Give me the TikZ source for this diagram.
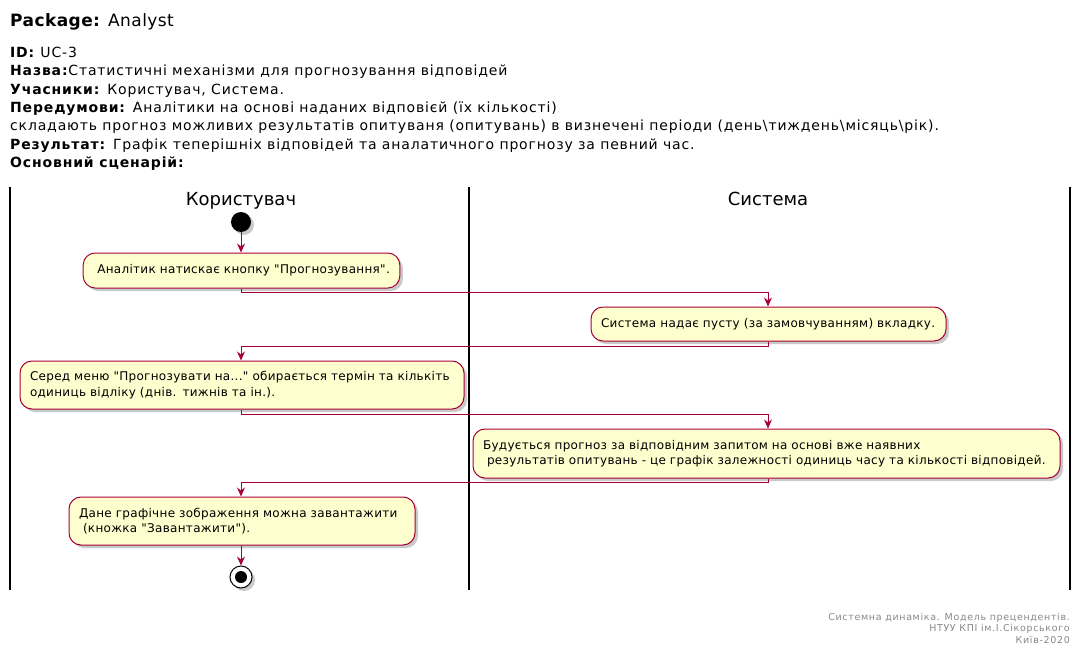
\documentclass[tikz,border=0pt]{standalone}
\usepackage{fontspec}
\newfontfamily\dv{DejaVu Sans}
\newfontfamily\dvh{DejaVu Sans}[LetterSpace=6]
\newfontfamily\dva{DejaVu Sans}[LetterSpace=2.5]
\newfontfamily\dvf{DejaVu Sans}[LetterSpace=7]
\newfontfamily\dvt{DejaVu Sans}[LetterSpace=2.5]
\usetikzlibrary{arrows.meta,shadows}
\definecolor{actfill}{HTML}{FEFECE}
\definecolor{actline}{HTML}{A80036}
\definecolor{foot}{HTML}{888888}
\tikzset{
  hdr/.style={anchor=base west,inner sep=0pt,font=\dvh\fontsize{14}{16}\selectfont},
  lanehead/.style={anchor=base,inner sep=0pt,font=\dv\fontsize{18}{20}\selectfont},
  act/.style={draw=actline,fill=actfill,line width=1pt,rounded corners=12pt,
    align=left,inner xsep=10pt,inner ysep=0pt,font=\dva\fontsize{12}{15.5}\selectfont,
    drop shadow={shadow xshift=3pt,shadow yshift=-3pt,fill=black!35,opacity=0.6}},
  flow/.style={draw=actline,line width=1pt,-{Stealth[length=9pt,width=8pt,inset=3pt]}},
  lane/.style={line width=1.5pt,black},
  footnote/.style={anchor=base east,inner sep=0pt,text=foot,font=\dvf\fontsize{9.5}{11}\selectfont}
}
\begin{document}
\begin{tikzpicture}[x=1pt,y=-1pt]
\useasboundingbox (0,0) rectangle (1081,655);
% header
\node[anchor=base west,inner sep=0pt,font=\dvt\fontsize{17}{20}\selectfont] (title) at (10,26.5) {\textbf{Package:} Analyst};
\node[hdr] (l1) at (10,57.5) {\textbf{ID:} UC-3};
\node[hdr] (l2) at (10,76) {\textbf{Назва:}Статистичні механізми для прогнозування відповідей};
\node[hdr] (l3) at (10,94.5) {\textbf{Учасники:} Користувач, Система.};
\node[hdr] (l4) at (10,112.5) {\textbf{Передумови:} Аналітики на основі наданих відповієй (їх кількості)};
\node[hdr] (l5) at (10,131) {складають прогноз можливих результатів опитуваня (опитувань) в визнечені періоди (день\textbackslash тиждень\textbackslash місяць\textbackslash рік).};
\node[hdr] (l6) at (10,149.5) {\textbf{Результат:} Графік теперішніх відповідей та аналатичного прогнозу за певний час.};
\node[hdr] (l7) at (10,167.5) {\textbf{Основний сценарій:}};
% lanes
\draw[lane] (10,187) -- (10,590);
\draw[lane] (469,187) -- (469,590);
\draw[lane] (1070,187) -- (1070,590);
\node[lanehead] (h1) at (241,205) {Користувач};
\node[lanehead] (h2) at (768,205) {Система};
% start
\node[circle,fill=black,minimum size=20pt,inner sep=0pt,
  drop shadow={shadow xshift=3pt,shadow yshift=-3pt,fill=black!35,opacity=0.6}] (start) at (241,222) {};
% activities
\node[act,minimum width=315pt,minimum height=35pt] (a1) at (241.5,270.5) {\ Аналітик натискає кнопку "Прогнозування".};
\node[act,text width=335pt,minimum height=34pt] (a2) at (768.5,324) {Система надає пусту (за замовчуванням) вкладку.};
\node[act,text width=424pt,minimum height=48pt] (a3) at (242,385) {Серед меню "Прогнозувати на..." обирається термін та кількіть\\одиниць відліку (днів. тижнів та ін.).};
\node[act,text width=567pt,minimum height=49pt] (a4) at (766.5,453.5) {Будується прогноз за відповідним запитом на основі вже наявних\\\ результатів опитувань - це графік залежності одиниць часу та кількості відповідей.};
\node[act,text width=326pt,minimum height=48pt] (a5) at (242,521) {Дане графічне зображення можна завантажити\\\ (кножка "Завантажити").};
% end
\node[circle,draw=black,fill=white,line width=1pt,minimum size=22pt,inner sep=0pt,
  drop shadow={shadow xshift=3pt,shadow yshift=-3pt,fill=black!35,opacity=0.6}] (stop) at (241,577) {};
\node[circle,fill=black,minimum size=12pt,inner sep=0pt] (stopdot) at (stop.center) {};
% flows
\draw[flow] (start) -- (a1.north -| start);
\draw[flow] (a1.south -| start) -- ++(0,4) -| (a2.north -| 768,0);
\draw[flow] (a2.south -| 768,0) -- ++(0,5) -| (a3.north -| start);
\draw[flow] (a3.south -| start) -- ++(0,5) -| (a4.north -| 768,0);
\draw[flow] (a4.south -| 768,0) -- ++(0,4) -| (a5.north -| start);
\draw[flow] (a5.south -| start) -- (stop);
% footer
\node[footnote] (f1) at (1070,620) {Системна динаміка. Модель прецендентів.};
\node[footnote] (f2) at (1070,631.5) {НТУУ КПІ ім.І.Сікорського};
\node[footnote] (f3) at (1070,643) {Київ-2020};
\end{tikzpicture}
\end{document}
